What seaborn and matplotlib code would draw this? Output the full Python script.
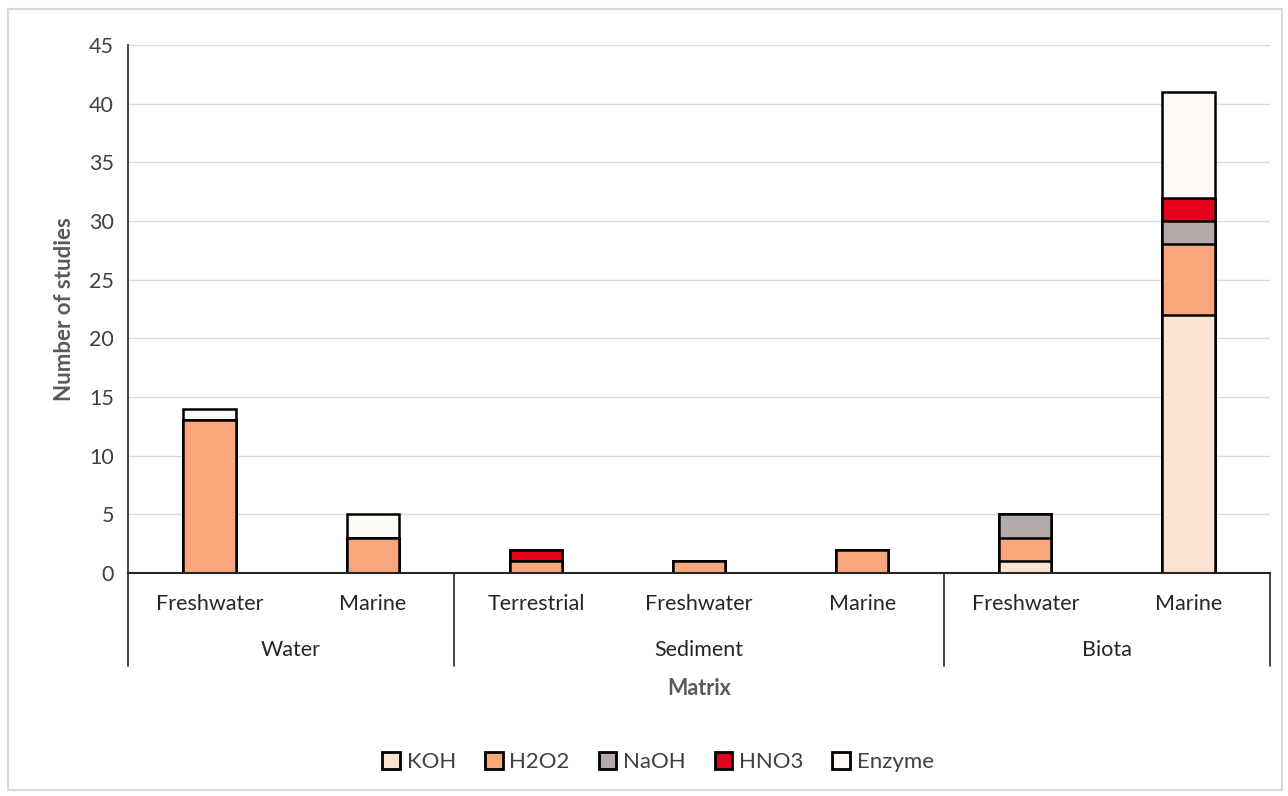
import numpy as np
import pandas as pd
import matplotlib
matplotlib.use("Agg")
import matplotlib.pyplot as plt
from matplotlib.patches import Patch, Rectangle
import seaborn as sns

groups = ["Water", "Water", "Sediment", "Sediment", "Sediment", "Biota", "Biota"]
subgroups = ["Freshwater", "Marine", "Terrestrial", "Freshwater", "Marine", "Freshwater", "Marine"]
methods = ["KOH", "H2O2", "NaOH", "HNO3", "Enzyme"]
koh    = [0, 0, 0, 0, 0, 1, 22]
h2o2   = [13, 3, 1, 1, 2, 2, 6]
naoh   = [0, 0, 0, 0, 0, 2, 2]
hno3   = [0, 0, 1, 0, 0, 0, 2]
enzyme = [1, 2, 0, 0, 0, 0, 9]
colors = ["#fde3d2", "#f9a77c", "#b3aaaa", "#e3001b", "#fdf9f5"]
yticks = [0, 5, 10, 15, 20, 25, 30, 35, 40, 45]

sns.set_theme(style="white")
plt.rcParams['font.family'] = ['Lato', 'DejaVu Sans']

keys = [f"{g}|{s}" for g, s in zip(groups, subgroups)]
layers = np.array([koh, h2o2, naoh, hno3, enzyme], dtype=float)
cum = np.cumsum(layers, axis=0)

fig = plt.figure(figsize=(12.88, 7.96), dpi=100)
ax = fig.add_axes([128/1288, 1-573/796, (1270-128)/1288, (573-45)/796])

for i in range(len(methods) - 1, -1, -1):
    df = pd.DataFrame({"key": keys, "val": cum[i]})
    sns.barplot(data=df, x="key", y="val", order=keys, color=colors[i],
                saturation=1, width=0.32, edgecolor="black", linewidth=1.8, ax=ax)

ax.set_ylim(0, 45)
ax.set_xlim(-0.5, len(keys) - 0.5)
ax.set_yticks(yticks)
ax.set_yticklabels([str(t) for t in yticks], fontsize=15.5, color="#404040")
ax.tick_params(axis="y", length=0, pad=10)
ax.set_xticks([])
ax.set_xlabel("")
ax.set_ylabel("Number of studies", fontsize=16, fontweight="bold", color="#595959", labelpad=10)
ax.yaxis.grid(True, color="#d9d9d9", linewidth=1)
ax.set_axisbelow(True)
for side in ["top", "right"]:
    ax.spines[side].set_visible(False)
ax.spines["left"].set_color("#262626")
ax.spines["left"].set_linewidth(1.2)
ax.spines["bottom"].set_color("#262626")
ax.spines["bottom"].set_linewidth(1.5)

trans = ax.get_xaxis_transform()
for i, s in enumerate(subgroups):
    ax.text(i, -0.058, s, transform=trans, ha="center", va="center", fontsize=15.5, color="#262626")
bounds = []
start = 0
for i in range(1, len(groups) + 1):
    if i == len(groups) or groups[i] != groups[start]:
        bounds.append((start, i - 1))
        start = i
seps = [-0.5] + [b[1] + 0.5 for b in bounds]
for x in seps:
    ax.plot([x, x], [0, -0.176], transform=trans, color="#262626", linewidth=1.2, clip_on=False)
for a, b in bounds:
    ax.text((a + b) / 2, -0.146, groups[a], transform=trans, ha="center", va="center",
            fontsize=15.5, color="#262626")
ax.text(0.5, -0.219, "Matrix", transform=ax.transAxes, ha="center", va="center",
        fontsize=15.5, fontweight="bold", color="#595959")

handles = [Patch(facecolor=c, edgecolor="black", linewidth=2, label=m) for c, m in zip(colors, methods)]
fig.legend(handles=handles, loc="center", bbox_to_anchor=(658/1288, 1-762/796), ncol=5,
           frameon=False, fontsize=16, handlelength=0.8, handleheight=0.8,
           handletextpad=0.3, columnspacing=1.3, labelcolor="#404040")

fig.patches.append(Rectangle((8/1288, 1-790/796), 1274/1288, 781/796, transform=fig.transFigure,
                             fill=False, edgecolor="#d9d9d9", linewidth=1.5))

fig.savefig("out.png", dpi=100)
